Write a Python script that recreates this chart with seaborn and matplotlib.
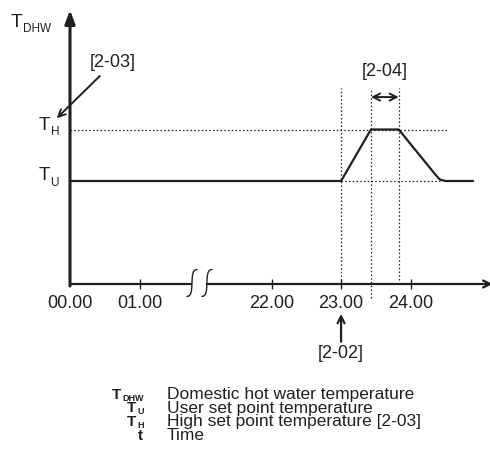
import numpy as np
import pandas as pd
import matplotlib
matplotlib.use("Agg")
import matplotlib.pyplot as plt
import seaborn as sns

# data
tick_hours = [0, 1, 22, 23, 24]
tick_labels = ["00.00", "01.00", "22.00", "23.00", "24.00"]
curve_hours = [0, 23.0, 23.43, 23.83, 24.36, 24.42, 24.50, 24.90]
curve_temp = [1.0, 1.0, 1.5, 1.5, 1.06, 1.015, 1.0, 1.0]
t_user = 1.0
t_high = 1.5
start_hour = 23.0       # [2-02]
high_start = 23.43
high_end = 23.83        # [2-04] duration
legend_sym = [("T", "DHW"), ("T", "U"), ("T", "H"), ("t", "")]
legend_txt = ["Domestic hot water temperature", "User set point temperature",
              "High set point temperature [2-03]", "Time"]


def to_x(h):
    # compressed time axis with a break between 01.00 and 22.00
    h = np.asarray(h, dtype=float)
    return np.where(h <= 1, h, h - 19.1)


sns.set_style("white")
plt.rcParams['font.family'] = ['Liberation Sans', 'DejaVu Sans']

W, H = 490, 455
fig = plt.figure(figsize=(4.9, 4.55), dpi=100)
ax = fig.add_axes([0, 0, 1, 1])
ax.set_xlim(-70 / 69.5, 420 / 69.5)
ax.set_ylim(-171 / 103, 284 / 103)
ax.axis("off")
rend = fig.canvas.get_renderer()

k = "#231f20"
fs = 13


def ptext(px, py, s, **kw):
    return fig.text(px / W, 1 - py / H, s, color=k, va="baseline", **kw)


def sym(px, py, main, sub, fm, fsub, drop, align="right", weight="normal"):
    # letter with a subscript, positioned in pixels
    if align == "left":
        t = ptext(px, py, main, ha="left", fontsize=fm, fontweight=weight)
        w = t.get_window_extent(rend).width
        ptext(px + w + 0.5, py + drop, sub, ha="left", fontsize=fsub, fontweight=weight)
    else:
        s = ptext(px, py + drop, sub, ha="right", fontsize=fsub, fontweight=weight)
        w = s.get_window_extent(rend).width if sub else 0
        ptext(px - w - 1, py, main, ha="right", fontsize=fm, fontweight=weight)


# axes with arrows
ax.annotate("", xy=(0, 2.66), xytext=(0, -0.02), annotation_clip=False,
            arrowprops=dict(arrowstyle="-|>,head_length=0.8,head_width=0.3",
                            lw=2.2, color=k, shrinkA=0, shrinkB=0))
brk1, brk2 = 1.755, 1.97
ax.plot([0, brk1], [0, 0], color=k, lw=1.6, solid_capstyle="butt")
ax.annotate("", xy=(6.08, 0), xytext=(brk2, 0), annotation_clip=False,
            arrowprops=dict(arrowstyle="->,head_length=0.5,head_width=0.25",
                            lw=1.6, color=k, shrinkA=0, shrinkB=0))
tt = np.linspace(-1, 1, 60)
for bx in (brk1, brk2):
    ax.plot(bx + 0.06 * tt ** 3 + 0.012 * tt, 0.01 + 0.13 * np.sin(np.pi * tt / 2),
            color=k, lw=1.0)

# ticks and labels
tx = to_x(tick_hours)
ax.plot(tx[1:], np.zeros(len(tx) - 1), ls="none", marker="|", ms=7, mew=1.0, color=k)
for x, lab in zip(tx, tick_labels):
    ax.text(x, -0.185, lab, ha="center", va="center", fontsize=fs, color=k)

# reference dotted lines
dot = dict(color=k, lw=0.9, ls=(0, (1.2, 1.8)))
ax.plot([0, to_x(24.53)], [t_high, t_high], **dot)
ax.plot([to_x(start_hour), to_x(24.45)], [t_user, t_user], **dot)
ax.plot([to_x(start_hour)] * 2, [0, 1.9], **dot)
ax.plot([to_x(high_start)] * 2, [-0.14, 1.9], **dot)
ax.plot([to_x(high_end)] * 2, [0.04, 1.9], **dot)

# temperature curve
df = pd.DataFrame({"x": to_x(curve_hours), "T": curve_temp})
sns.lineplot(data=df, x="x", y="T", ax=ax, color=k, lw=1.6, sort=False,
             estimator=None)

# y labels
sym(11, 27, "T", "DHW", 14, 8.5, 5, align="left")
sym(59, 130, "T", "H", 13.5, 8.5, 5)
sym(59, 180, "T", "U", 13.5, 8.5, 6)

# annotations
ax.text(0.62, 2.146, "[2-03]", ha="center", va="center", fontsize=fs, color=k)
ax.annotate("", xy=(-0.19, 1.61), xytext=(0.43, 2.02),
            arrowprops=dict(arrowstyle="->,head_length=0.5,head_width=0.25",
                            lw=1.4, color=k, shrinkA=0, shrinkB=0))
ax.text(to_x((high_start + high_end) / 2), 2.06, "[2-04]", ha="center",
        va="center", fontsize=fs, color=k)
ax.annotate("", xy=(to_x(high_start), 1.815), xytext=(to_x(high_end), 1.815),
            arrowprops=dict(arrowstyle="<->,head_length=0.5,head_width=0.25",
                            lw=1.4, color=k, shrinkA=0, shrinkB=0))
ax.annotate("", xy=(to_x(start_hour), -0.29), xytext=(to_x(start_hour), -0.56),
            arrowprops=dict(arrowstyle="->,head_length=0.5,head_width=0.25",
                            lw=1.6, color=k, shrinkA=0, shrinkB=0))
ax.text(to_x(start_hour), -0.67, "[2-02]", ha="center", va="center",
        fontsize=fs, color=k)

# legend block
rows_y = [399, 412.5, 426, 439.5]
for py, (m, s), t in zip(rows_y, legend_sym, legend_txt):
    sym(144, py, m, s, 11, 6.5, 2, weight="bold")
    ptext(167, py, t, ha="left", fontsize=12.5)

fig.savefig("out.png", dpi=100)
